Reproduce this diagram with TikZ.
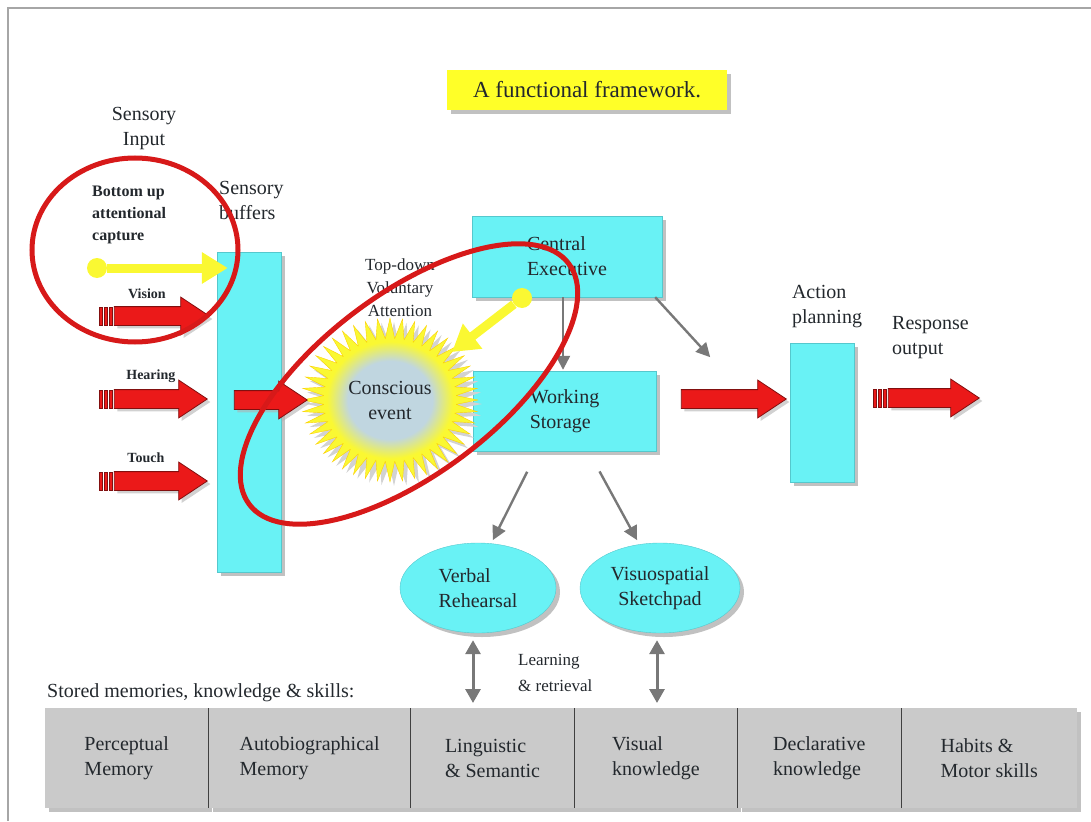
\documentclass[tikz,border=0pt]{standalone}
\usepackage{fontspec}
\setmainfont{Liberation Serif}
\usepackage{tikz}
\usetikzlibrary{
	positioning,
	arrows.meta,
	shapes.arrows,
	shapes.geometric,
	shadows
}

\definecolor{bufcyan}{RGB}{105,242,245}
\definecolor{bufedge}{RGB}{85,200,205}
\definecolor{ringred}{RGB}{215,25,25}
\definecolor{fatred}{RGB}{235,25,25}
\definecolor{fatedge}{RGB}{130,15,15}
\definecolor{beamyellow}{RGB}{250,248,50}
\definecolor{titleyellow}{RGB}{255,255,40}
\definecolor{linkgray}{RGB}{120,120,120}
\definecolor{memgray}{RGB}{202,202,202}
\definecolor{blobblue}{RGB}{192,214,224}
\definecolor{ink}{RGB}{35,40,45}

\pgfdeclareradialshading{glow}{\pgfpoint{0bp}{0bp}}{color(0bp)=(blobblue); color(16bp)=(blobblue); color(24bp)=(beamyellow); color(50bp)=(beamyellow)}

\tikzset{
	big/.style={font=\fontsize{20}{25}\selectfont},
	note/.style={big, inner sep=0pt, align=left},
	small/.style={font=\bfseries\fontsize{14}{17}\selectfont, inner sep=0pt},
	cbox/.style={big, draw=bufedge, fill=bufcyan, align=left,
		drop shadow={shadow xshift=4pt, shadow yshift=-4pt, fill=gray!70, opacity=0.7}},
	oval/.style={cbox, ellipse, inner sep=0pt},
	titlebox/.style={font=\fontsize{23}{28}\selectfont, fill=titleyellow,
		minimum width=280pt, minimum height=40pt,
		drop shadow={shadow xshift=4pt, shadow yshift=-4pt, fill=gray!70, opacity=0.7}},
	blob/.style={big, ellipse, shading=glow, align=center, inner sep=0pt,
		minimum width=132pt, minimum height=122pt},
	fat/.style={single arrow, draw=fatedge, fill=fatred, line width=0.8pt,
		inner xsep=0pt, inner ysep=9pt, single arrow head extend=9.5pt,
		single arrow tip angle=67,
		drop shadow={shadow xshift=3pt, shadow yshift=-3pt, fill=gray!60, opacity=0.6}},
	stripe/.style={fill=fatred, draw=fatedge, line width=0.6pt},
	dot/.style={circle, fill=beamyellow, inner sep=0pt, minimum size=20pt},
	beam/.style={beamyellow, line width=9pt, -{Triangle[length=26pt, width=30pt]}},
	link/.style={linkgray, line width=2.4pt, -{Triangle[length=14pt, width=14pt]}},
	dlink/.style={linkgray, line width=3pt,
		{Triangle[length=14pt, width=15pt]}-{Triangle[length=14pt, width=15pt]}},
	ring/.style={ringred, line width=5pt},
	memcell/.style={big, fill=memgray, minimum height=100pt, align=left, inner sep=0pt,
		drop shadow={shadow xshift=4pt, shadow yshift=-4pt, fill=gray!70, opacity=0.7}}
}

\begin{document}
\begin{tikzpicture}[x=1pt, y=-1pt, every node/.append style={text=ink}]
	\useasboundingbox (0,0) rectangle (1091,821);
	\draw[gray!70, line width=2pt] (8,821) -- (8,8) -- (1091,8);

	% title and free labels
	\node[titlebox] (title) at (587,90) {A functional framework.};
	\node[note, align=center] (input) at (144,129) {Sensory\\Input};
	\node[font=\bfseries\fontsize{16}{22}\selectfont, inner sep=0pt, align=left,
		anchor=north west] (capture) at (92,186) {Bottom up\\attentional\\capture};
	\node[font=\fontsize{17}{23}\selectfont, inner sep=0pt, align=center]
		(topdown) at (400,288) {Top-down\\Voluntary\\Attention};

	% boxes
	\node[cbox, minimum width=64pt, minimum height=320pt] (buf) at (249,412) {};
	\node[cbox, minimum width=190pt, minimum height=81pt] (cex) at (567,256.5) {Central\\Executive};
	\node[cbox, minimum width=183pt, minimum height=80pt] (ws) at (564.5,411) {Working\\Storage};
	\node[cbox, minimum width=64pt, minimum height=139pt] (act) at (822,412.5) {};
	\node[oval, minimum width=156pt, minimum height=90pt] (verb) at (478,588) {Verbal\\Rehearsal};
	\node[oval, align=center, minimum width=160pt, minimum height=90pt] (vis) at (660,588) {Visuospatial\\Sketchpad};

	\node[note, anchor=west] (sbuf) at (219,200) {Sensory\\buffers};
	\node[note, anchor=south west] (plan) at ([xshift=2pt,yshift=15pt]act.north west) {Action\\planning};
	\node[note, anchor=west] (output) at (892,338) {Response\\output};
	\node[note, font=\fontsize{17}{26}\selectfont, anchor=west] (learn) at (518,673) {Learning\\\& retrieval};

	% stored memories
	\node[memcell, minimum width=163pt, anchor=north west] (m1) at (45,708) {Perceptual\\Memory};
	\node[memcell, minimum width=202pt, right=0pt of m1] (m2) {Autobiographical\\Memory};
	\node[memcell, minimum width=163pt, right=0pt of m2] (m3) {Linguistic\\\& Semantic};
	\node[memcell, minimum width=163pt, right=0pt of m3] (m4) {Visual\\knowledge};
	\node[memcell, minimum width=163pt, right=0pt of m4] (m5) {Declarative\\knowledge};
	\node[memcell, minimum width=176pt, right=0pt of m5] (m6) {Habits \&\\Motor skills};
	\foreach \a in {m1,m2,m3,m4,m5}
		\draw[gray!50!black, line width=0.8pt] (\a.north east) -- (\a.south east);
	\node[note, anchor=south west] (stored) at ([xshift=2pt,yshift=6pt]m1.north west)
		{Stored memories, knowledge \& skills:};

	% thin links
	\draw[link, shorten >=1pt] ([xshift=-4pt]cex.south) -- ([xshift=-1.5pt]ws.north);
	\draw[link] ([xshift=-7pt]cex.south east) -- ++(55,60);
	\draw[link, shorten <=23pt, shorten >=3pt] ([xshift=-27pt]ws.south) -- ([xshift=13.5pt]verb.north);
	\draw[link, shorten <=23pt, shorten >=3pt] ([xshift=24pt]ws.south) -- ([xshift=-21.5pt]vis.north);
	\draw[dlink, shorten <=7pt, shorten >=5pt] ([xshift=-5pt]verb.south) -- ([xshift=-5pt]verb.south |- m3.north);
	\draw[dlink, shorten <=7pt, shorten >=5pt] ([xshift=-3pt]vis.south) -- ([xshift=-3pt]vis.south |- m4.north);

	% conscious event
	\fill[gray!35] plot[samples=89, domain=0:88, variable=\k]
		({394+(77+11*cos(180*\k))*cos(360/88*\k)}, {404+0.93*(77+11*cos(180*\k))*sin(360/88*\k)}) -- cycle;
	\fill[beamyellow, draw=yellow!70!orange, line width=0.4pt] plot[samples=89, domain=0:88, variable=\k]
		({390+(77+11*cos(180*\k))*cos(360/88*\k)}, {400+0.93*(77+11*cos(180*\k))*sin(360/88*\k)}) -- cycle;
	\node[blob] (event) at (390,400) {Conscious\\event};

	% fat arrows
	\node[fat, minimum height=95pt, anchor=tip] (vision) at (210,316) {};
	\node[fat, minimum height=93pt, anchor=tip] (hearing) at (208,399) {};
	\node[fat, minimum height=93pt, anchor=tip] (touch) at (208,481) {};
	\node[fat, minimum height=73pt, anchor=tip] (inflow) at (308,400) {};
	\node[fat, minimum height=105pt, anchor=tip] (outflow) at (787,399) {};
	\node[fat, minimum height=91pt, anchor=tip] (response) at (980,398) {};
	\foreach \a in {vision,hearing,touch,response}
		\foreach \d in {2,7,12}
			\filldraw[stripe] ([xshift=-\d pt, yshift=9pt]\a.tail) rectangle ++(-3,18);
	\node[small] at ([xshift=33pt,yshift=22pt]vision.tail) {Vision};
	\node[small] at ([xshift=37pt,yshift=23pt]hearing.tail) {Hearing};
	\node[small] at ([xshift=32pt,yshift=23pt]touch.tail) {Touch};

	% attention beams
	\node[dot] (bu) at (97,268) {};
	\draw[beam] (bu) -- ([xshift=11pt]buf.west |- bu);
	\node[dot] (td) at (522,298) {};
	\coordinate (tdtip) at (452,352);
	\draw[beam] (td) -- (tdtip);

	% highlight rings
	\draw[ring] (135,250) ellipse [x radius=103, y radius=92];
	\draw[ring, rotate around={37:(409,384)}] (409,384) ellipse [x radius=200, y radius=90];
\end{tikzpicture}
\end{document}
